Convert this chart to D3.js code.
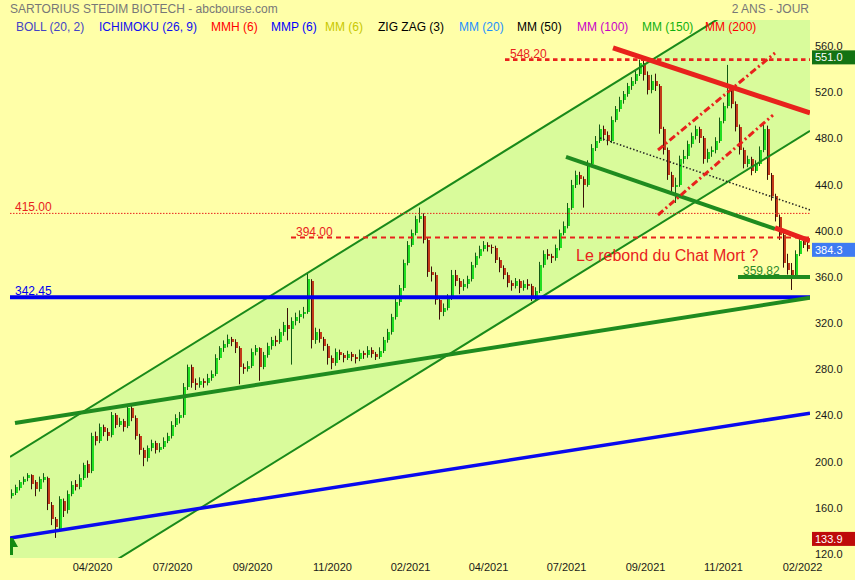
<!DOCTYPE html>
<html><head><meta charset="utf-8">
<script src="https://cdn.jsdelivr.net/npm/d3@7"></script>
<style>
html,body{margin:0;padding:0;background:#FFFFA8;}
svg{display:block;font-family:"Liberation Sans",Arial,Helvetica,sans-serif;}
</style></head><body>
<svg id="chart" width="855" height="580"></svg>
<script>
// ---------- DATA ----------
const opens = [
170,173,177,182,186,188,182,176,184,186,
162,150,142,166,158,172,181,178,186,198,
192,222,218,230,226,223,240,232,235,231,
246,238,222,210,203,212,216,210,213,218,
222,232,238,240,265,282,268,266,270,268,
272,276,290,298,302,306,304,298,282,280,
283,295,298,282,292,300,305,304,312,318,
315,322,325,328,330,356,305,312,306,300,
290,285,295,292,290,293,291,289,294,292,
297,293,291,296,305,312,325,338,350,372,
388,398,410,413,392,364,362,340,330,333,
342,362,356,351,354,358,370,378,384,388,
386,385,375,368,362,355,352,356,350,354,
352,342,348,370,380,378,376,385,398,404,
420,440,448,445,440,458,472,478,488,483,
478,496,505,513,518,525,530,536,545,535,
522,530,525,488,470,448,438,440,462,465,
475,482,488,480,462,468,470,478,495,508,
522,510,490,470,458,462,452,458,470,488,
448,430,412,396,372,366,362,380,391,388];
const highs = [
176,180,184,187,190,189,184,187,190,187,
165,152,170,168,175,183,184,189,199,201,
225,226,233,232,229,243,242,238,237,249,
248,240,224,212,214,219,218,216,221,225,
235,241,243,268,284,284,272,273,272,276,
279,293,300,305,310,308,306,300,285,287,
298,301,299,295,303,308,309,315,321,333,
325,329,331,334,364,358,316,315,308,302,
292,298,297,294,296,295,293,297,296,300,
299,295,299,308,315,328,341,353,375,391,
401,413,420,415,394,369,364,343,337,345,
366,366,359,358,361,373,381,387,391,390,
388,387,377,370,364,357,359,358,357,358,
354,351,373,383,384,380,388,401,408,424,
444,452,451,447,461,475,482,492,491,486,
499,508,516,521,528,533,539,548.2,547,538,
535,536,527,490,472,451,446,465,470,478,
485,491,490,482,471,473,481,498,511,543.6,
525,512,492,472,465,464,461,473,493,491,
450,432,414,398,380,372,383,395,394,391];
const lows = [
168,171,175,180,183,176,170,174,182,158,
145,133.9,140,152,155,170,175,176,184,186,
190,214,216,222,218,221,229,230,226,229,
235,219,206,196,200,209,207,208,211,216,
220,230,233,238,262,264,262,264,264,266,
270,274,288,295,299,300,294,267,276,278,
281,292,270,280,290,297,300,302,309,305,
284,318,320,324,328,298,302,303,296,284,
280,283,288,286,288,287,285,287,289,290,
290,288,289,294,303,310,323,335,348,370,
386,396,407,389,360,356,336,323,326,331,
340,352,345,348,350,356,368,376,382,382,
380,372,364,358,351,348,350,346,348,349,
339,340,346,368,375,372,374,383,396,402,
418,437,440,420,438,455,469,476,478,474,
476,494,503,510,516,522,527,534,530,518,
519,521,484,466,444,432,424,438,458,462,
472,479,476,458,459,464,467,476,493,506,
506,486,466,454,455,448,450,456,468,444,
426,408,392,368,362,348.7,360,378,385,382];
const closes = [
173,178,182,185,188,181,176,185,187,163,
150,143,168,157,172,180,178,186,197,190,
222,218,230,226,222,240,232,235,230,246,
238,222,210,203,212,216,210,213,218,222,
232,238,240,265,282,268,266,270,268,272,
276,290,298,302,306,304,298,282,280,283,
295,298,282,292,300,305,304,312,318,315,
322,325,328,330,358,305,312,306,300,290,
285,295,292,290,293,291,289,294,292,297,
293,291,296,305,312,325,338,350,372,388,
398,410,413,392,364,362,340,330,333,342,
362,356,351,354,358,370,378,384,388,386,
385,375,368,362,355,352,356,350,354,352,
342,348,370,380,378,376,385,398,404,420,
440,448,445,440,458,472,478,488,483,478,
496,505,513,518,525,530,536,545,535,522,
530,525,488,470,448,438,440,462,465,475,
482,488,480,462,468,470,478,495,508,522,
510,490,470,458,462,452,458,470,488,448,
430,412,396,372,366,362,380,391,388,384.3];

const dateTickBars = [20, 40, 60, 80, 99.5, 119, 138.5, 158.25, 177.75, 197.5];
const dateTickLabels = ["04/2020","07/2020","09/2020","11/2020","02/2021","04/2021","07/2021","09/2021","11/2021","02/2022"];
const priceTicks = [120,160,200,240,280,320,360,400,440,480,520,560];

// trend lines: [barIndex, price] pairs
const channelUpper = [[-0.5, 204.0], [199.5, 632.6]];
const channelLower = [[-0.5, 57.8], [199.5, 486.4]];
const supportGreen = [[0.75, 233.5], [199.5, 342.0]];
const supportBlue = [[-0.5, 133.8], [199.5, 242.0]];
const resistRed = [[150.25, 558.3], [199.5, 502.0]];
const resistRedShort = [[190.75, 402.4], [199.5, 391.1]];
const downGreen = [[138.5, 463.9], [190.75, 401.5]];
const dashDotUpper = [[161.5, 469.9], [190.75, 553.9]];
const dashDotLower = [[161.5, 413.6], [190.25, 500.2]];
const dottedBlack = [[147, 480.3], [199.5, 418.0]];
const floorGreen = [[181.5, 359.82], [199.5, 359.82]];

// horizontal levels
const levelValues = [548.20, 415.00, 394.00, 342.45];
const levelStartBars = [123.25, -0.5, 69.75, -0.5];
const levelLabelBars = [124.5, 0.75, 71, 0.75];
const levelLabels = ["548.20", "415.00", "394.00", "342.45"];

const legendItems = ["BOLL (20, 2)","ICHIMOKU (26, 9)","MMH (6)","MMP (6)","MM (6)","ZIG ZAG (3)","MM (20)","MM (50)","MM (100)","MM (150)","MM (200)"];
const legendColors = ["#4444C4","#1010F0","#FF0000","#0000FF","#C8C800","#000000","#1E90FF","#000000","#C800C8","#10B010","#FF0000"];
const legendX = [16, 99, 211, 271, 325, 378, 459, 517, 577, 642, 705];

const valueBoxes = [551.0, 384.3, 133.9];
const valueBoxColors = ["#137313", "#3F7BF2", "#BE0A0A"];

// ---------- CHART ----------
const svg = d3.select("#chart");
const W = 855, H = 580;
const plot = {left:10, right:810, top:20, bottom:558};
const n = closes.length;
const x = d3.scaleLinear().domain([-0.5, n - 0.5]).range([plot.left, plot.right]);
const y = d3.scaleLinear().domain([116.5, 582.5]).range([plot.bottom, plot.top]);

svg.append("rect").attr("width", W).attr("height", H).attr("fill", "#FFFFA8");

svg.append("defs").append("clipPath").attr("id","clip")
  .append("rect").attr("x", plot.left).attr("y", plot.top)
  .attr("width", plot.right - plot.left).attr("height", plot.bottom - plot.top);

const g = svg.append("g").attr("clip-path","url(#clip)");

// channel fill
const chanPoly = [channelUpper[0], channelUpper[1], channelLower[1], channelLower[0]];
g.append("path")
  .attr("d", "M" + chanPoly.map(d => [x(d[0]), y(d[1])].join(",")).join("L") + "Z")
  .attr("fill", "#D9FB9B");

// candles
const cg = g.append("g");
d3.range(n).forEach(i => {
  const cx = x(i);
  const up = closes[i] >= opens[i];
  const top = y(Math.max(opens[i], closes[i]));
  const bot = y(Math.min(opens[i], closes[i]));
  cg.append("rect")
    .attr("x", cx - 1).attr("width", 3)
    .attr("y", top).attr("height", Math.max(1, bot - top))
    .attr("fill", up ? "#22DD22" : "#C23A1A")
    .attr("shape-rendering", "crispEdges");
  cg.append("line")
    .attr("x1", cx - 0.5).attr("x2", cx - 0.5)
    .attr("y1", y(highs[i])).attr("y2", y(lows[i]))
    .attr("stroke", up ? "#145A14" : "#3A1008").attr("stroke-width", 1);
});

function seg(pts, color, width, dash) {
  const l = g.append("line")
    .attr("x1", x(pts[0][0])).attr("y1", y(pts[0][1]))
    .attr("x2", x(pts[1][0])).attr("y2", y(pts[1][1]))
    .attr("stroke", color).attr("stroke-width", width);
  if (dash) l.attr("stroke-dasharray", dash);
  return l;
}

// channel borders
seg(channelUpper, "#1A8A1A", 2);
seg(channelLower, "#1A8A1A", 2);

// horizontal levels
const levelStyles = [
  {color:"#E8221C", width:2.7, dash:"4.5,3.5"},
  {color:"#E8221C", width:1, dash:"1.5,1.5"},
  {color:"#E8221C", width:2, dash:"5,4"},
  {color:"#0000EE", width:4, dash:null}
];
levelValues.forEach((v, k) => {
  const s = levelStyles[k];
  seg([[levelStartBars[k], v], [n - 0.5, v]], s.color, s.width, s.dash);
});

// trend lines
seg(supportGreen, "#1F8B1F", 4);
seg(supportBlue, "#0A0AEE", 3.5);
seg(dottedBlack, "#222", 1.5, "1.5,2");
seg(downGreen, "#1F8B1F", 4);
seg(resistRed, "#E8221C", 5);
seg(resistRedShort, "#E8221C", 5);
seg(dashDotUpper, "#E8221C", 3, "7,3,2,3");
seg(dashDotLower, "#E8221C", 3, "7,3,2,3");
seg(floorGreen, "#1F8B1F", 4);

// level labels
levelValues.forEach((v, k) => {
  svg.append("text")
    .attr("x", x(levelLabelBars[k])).attr("y", y(v) - 2)
    .attr("font-size", 12)
    .attr("fill", k === 3 ? "#0000EE" : "#E8221C")
    .text(levelLabels[k]);
});
svg.append("text")
  .attr("x", x(182.75)).attr("y", y(359.82) - 2)
  .attr("font-size", 12).attr("fill", "#2A8A2A").text("359.82");

svg.append("text")
  .attr("x", x(141)).attr("y", y(373.8))
  .attr("font-size", 16).attr("fill", "#E8221C")
  .text("Le rebond du Chat Mort ?");

// start marker
const mx = x(-0.5), my = y(supportBlue[0][1]);
svg.append("path")
  .attr("d", `M${mx},${my}L${mx+3},${my}L${mx+8},${my+9}L${mx+3},${my+9}L${mx+3},${my+17}L${mx},${my+17}Z`)
  .attr("fill", "#138A13");

// right axis
const yAxis = d3.axisRight(y).tickValues(priceTicks).tickFormat(d3.format(".1f")).tickSize(0).tickPadding(5);
const ya = svg.append("g").attr("transform", `translate(${plot.right},0)`).call(yAxis);
ya.select(".domain").remove();
ya.selectAll("text").attr("font-size", 11).attr("fill", "#1a1a1a")
  .attr("font-family", "'Liberation Sans',Arial,sans-serif");

// bottom axis
const xAxis = d3.axisBottom(x).tickValues(dateTickBars)
  .tickFormat((d, k) => dateTickLabels[k]).tickSize(0).tickPadding(5);
const xa = svg.append("g").attr("transform", `translate(0,${plot.bottom})`).call(xAxis);
xa.select(".domain").remove();
xa.selectAll("text").attr("font-size", 11).attr("fill", "#1a1a1a")
  .attr("font-family", "'Liberation Sans',Arial,sans-serif");

// value boxes
valueBoxes.forEach((v, k) => {
  const cy = y(v) + 1;
  svg.append("rect").attr("x", 812).attr("y", cy - 7).attr("width", 43).attr("height", 14)
    .attr("fill", valueBoxColors[k]);
  svg.append("text").attr("x", 815).attr("y", cy).attr("dy", "0.35em")
    .attr("font-size", 11).attr("fill", "#fff").text(d3.format(".1f")(v));
});

// title and legend
svg.append("text").attr("x", 10).attr("y", 12.5).attr("font-size", 12).attr("fill", "#777")
  .text("SARTORIUS STEDIM BIOTECH - abcbourse.com");
svg.append("text").attr("x", 809).attr("y", 12.5).attr("font-size", 12).attr("fill", "#777")
  .attr("text-anchor", "end").text("2 ANS - JOUR");
legendItems.forEach((t, k) => {
  svg.append("text").attr("x", legendX[k]).attr("y", 31).attr("font-size", 12)
    .attr("fill", legendColors[k]).text(t);
});
</script>
</body></html>
